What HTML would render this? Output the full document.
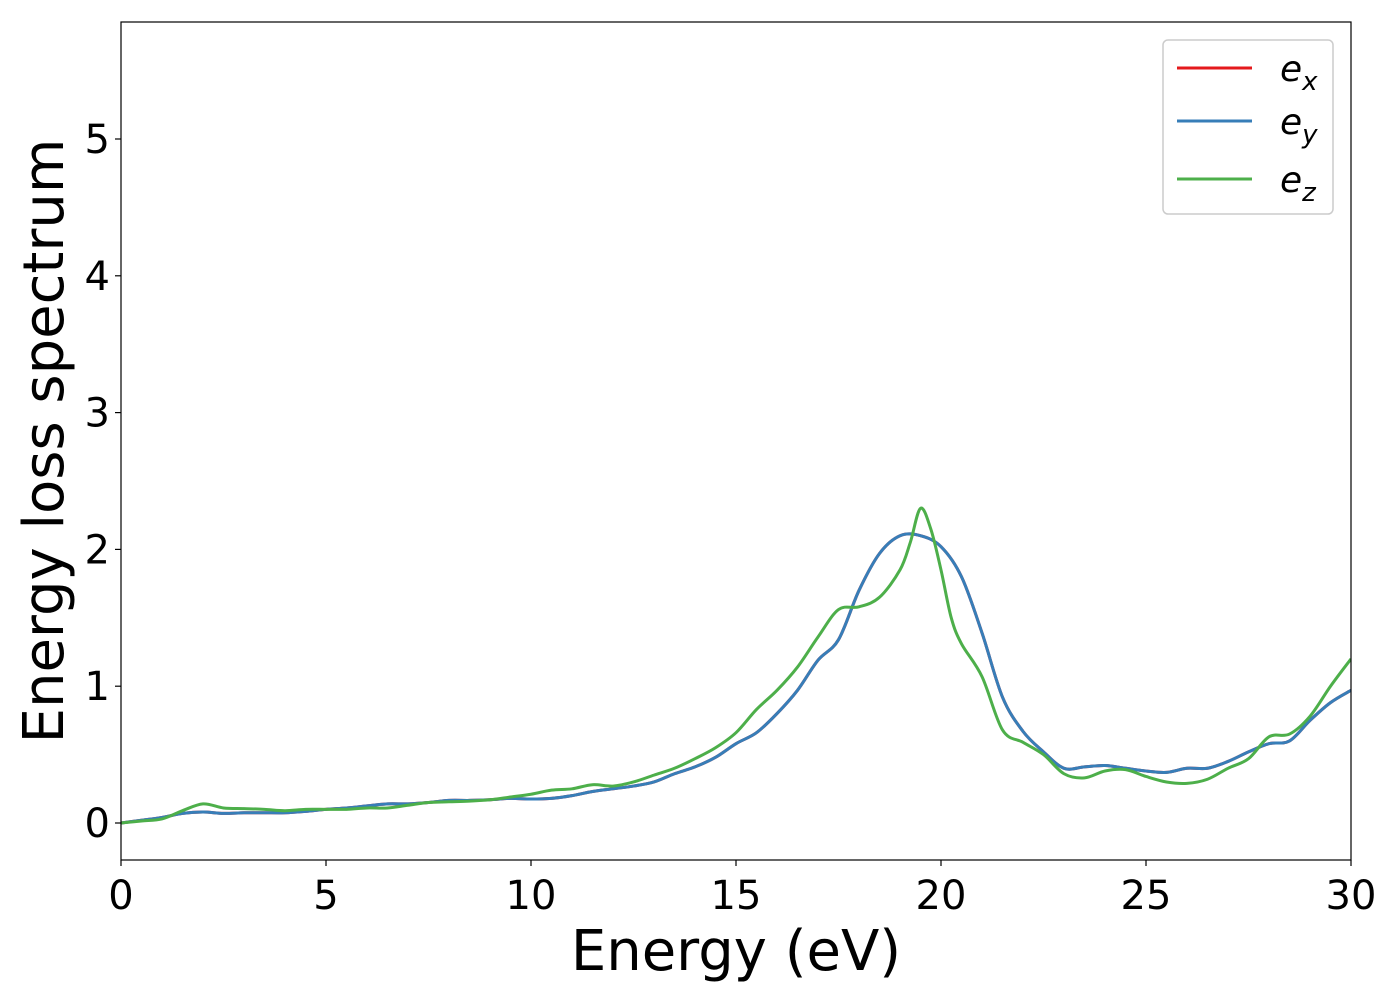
<!DOCTYPE html>
<html><head><meta charset="utf-8"><style>
body{margin:0;background:#fff;}
svg text{font-family:"DejaVu Sans","Liberation Sans",sans-serif;}
</style></head><body>
<svg id="chart" width="1400" height="1000" xmlns="http://www.w3.org/2000/svg">
<rect x="0" y="0" width="1400" height="1000" fill="#fff"/>
<g id="plot"></g>
<g id="axes"></g>
</svg>
<script>
const energies = [0,0.5,1,1.5,2,2.5,3,3.5,4,4.5,5,5.5,6,6.5,7,7.5,8,8.5,9,9.5,10,10.5,11,11.5,12,12.5,13,13.5,14,14.5,15,15.5,16,16.5,17,17.5,18,18.5,19,19.5,20,20.5,21,21.5,22,22.5,23,23.5,24,24.5,25,25.5,26,26.5,27,27.5,28,28.5,29,29.5,30];
const exValues = [0,0.02,0.04,0.07,0.08,0.07,0.075,0.075,0.075,0.085,0.1,0.11,0.125,0.14,0.14,0.15,0.165,0.165,0.17,0.18,0.175,0.18,0.2,0.23,0.25,0.27,0.3,0.36,0.41,0.48,0.58,0.66,0.8,0.97,1.19,1.34,1.7,1.97,2.1,2.1,2.02,1.8,1.39,0.92,0.67,0.52,0.4,0.41,0.42,0.4,0.38,0.37,0.4,0.4,0.45,0.52,0.58,0.6,0.75,0.88,0.97];
const eyValues = exValues.slice();
const ezEnergies = [0,0.5,1,1.5,2,2.5,3,3.5,4,4.5,5,5.5,6,6.5,7,7.5,8,8.5,9,9.5,10,10.5,11,11.5,12,12.5,13,13.5,14,14.5,15,15.5,16,16.5,17,17.5,18,18.5,19,19.25,19.5,19.75,20,20.25,20.5,21,21.5,22,22.5,23,23.5,24,24.5,25,25.5,26,26.5,27,27.5,28,28.5,29,29.5,30];
const ezValues = [0,0.015,0.03,0.09,0.14,0.11,0.105,0.1,0.09,0.1,0.1,0.1,0.11,0.11,0.13,0.15,0.155,0.16,0.17,0.19,0.21,0.24,0.25,0.28,0.27,0.3,0.35,0.4,0.47,0.55,0.66,0.83,0.97,1.14,1.36,1.56,1.58,1.65,1.85,2.05,2.3,2.15,1.85,1.5,1.31,1.07,0.68,0.59,0.5,0.36,0.33,0.38,0.39,0.34,0.3,0.29,0.32,0.4,0.47,0.63,0.65,0.78,1.0,1.2];
const xTicks = [0,5,10,15,20,25,30];
const yTicks = [0,1,2,3,4,5];

const L=121,R=1351,T=22,B=860;
const xs = v => L + (v-0)/(30-0)*(R-L);
const ys = v => 823 - v*136.8;
const NS="http://www.w3.org/2000/svg";
const plot=document.getElementById('plot'), axes=document.getElementById('axes');
function mk(tag,attrs,parent){const e=document.createElementNS(NS,tag);for(const k in attrs)e.setAttribute(k,attrs[k]);parent.appendChild(e);return e;}
function smooth(xv,yv){
  const p=xv.map((x,i)=>[xs(x),ys(yv[i])]);
  let d=`M${p[0][0]},${p[0][1]}`;
  for(let i=0;i<p.length-1;i++){
    const p0=p[Math.max(0,i-1)],p1=p[i],p2=p[i+1],p3=p[Math.min(p.length-1,i+2)];
    const c1=[p1[0]+(p2[0]-p0[0])/6,p1[1]+(p2[1]-p0[1])/6];
    const c2=[p2[0]-(p3[0]-p1[0])/6,p2[1]-(p3[1]-p1[1])/6];
    d+=`C${c1[0]},${c1[1]} ${c2[0]},${c2[1]} ${p2[0]},${p2[1]}`;
  }
  return d;
}
mk('clipPath',{id:'clip'},plot).appendChild(Object.assign(document.createElementNS(NS,'rect'),{}));
plot.firstChild.firstChild.setAttribute('x',L);plot.firstChild.firstChild.setAttribute('y',T);
plot.firstChild.firstChild.setAttribute('width',R-L);plot.firstChild.firstChild.setAttribute('height',B-T);
const series=[[energies,exValues,'#e41a1c','series-ex'],[energies,eyValues,'#377eb8','series-ey'],[ezEnergies,ezValues,'#4daf4a','series-ez']];
for(const s of series){
  const path=mk('path',{d:smooth(s[0],s[1]),fill:'none',stroke:s[2],'stroke-width':3,'clip-path':'url(#clip)'},plot);
  
  
}
const frame=mk('rect',{x:L,y:T,width:R-L,height:B-T,fill:'none',stroke:'#000','stroke-width':1.2},axes);


for(const t of xTicks){
  mk('line',{x1:xs(t),x2:xs(t),y1:B,y2:B+6,stroke:'#000','stroke-width':1.2},axes);
  const tx=mk('text',{x:xs(t),y:B+49,'font-size':40,'text-anchor':'middle'},axes);
  tx.textContent=t;
  
  
}
for(const t of yTicks){
  mk('line',{x1:L-6,x2:L,y1:ys(t),y2:ys(t),stroke:'#000','stroke-width':1.2},axes);
  const ty=mk('text',{x:L-11,y:ys(t)+14,'font-size':40,'text-anchor':'end'},axes);
  ty.textContent=t;
  
  
}
const xt=mk('text',{x:736,y:970,'font-size':56,'text-anchor':'middle'},axes);
xt.textContent='Energy (eV)';


const yt=mk('text',{x:0,y:0,'font-size':56,'text-anchor':'middle',transform:'translate(63,441) rotate(-90)'},axes);
yt.textContent='Energy loss spectrum';


// legend
const lg=mk('g',{},axes);


mk('rect',{x:1163,y:40,width:170,height:174,rx:5,fill:'#fff',stroke:'#ccc','stroke-width':1.5},lg);
const labs=[['x',68,'#e41a1c'],['y',121,'#377eb8'],['z',179,'#4daf4a']];
for(const l of labs){
  const g=mk('g',{},lg);
  
  
  mk('line',{x1:1177,x2:1252,y1:l[1],y2:l[1],stroke:l[2],'stroke-width':3},g);
  const t=mk('text',{x:1280,y:l[1]+13,'font-size':36,'font-style':'italic'},g);
  t.innerHTML='e<tspan font-size="26" dy="9">'+l[0]+'</tspan>';
}
</script>
</body></html>
